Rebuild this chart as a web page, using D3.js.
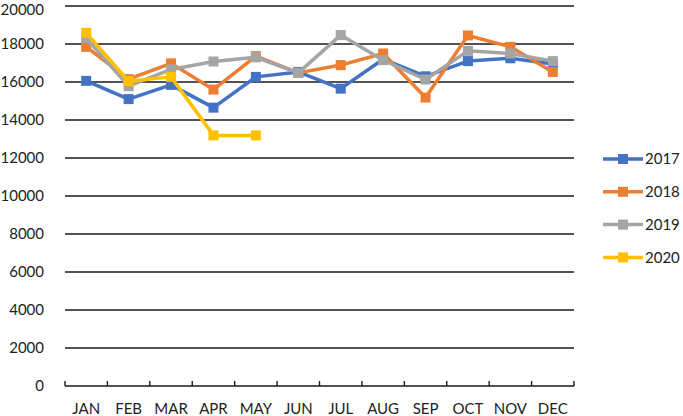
<!DOCTYPE html>
<html>
<head>
<meta charset="utf-8">
<script src="https://cdn.jsdelivr.net/npm/d3@7"></script>
<style>
  body { margin: 0; background: #fff; }
  text { font-family: Lato, "Liberation Sans", sans-serif; font-size: 15px; fill: #222; }
</style>
</head>
<body>
<script>
const months = ['JAN', 'FEB', 'MAR', 'APR', 'MAY', 'JUN', 'JUL', 'AUG', 'SEP', 'OCT', 'NOV', 'DEC']
const years = ['2017', '2018', '2019', '2020']
const colors = ['#4472C4', '#ED7D31', '#A5A5A5', '#FFC000']
const yTicks = [0, 2000, 4000, 6000, 8000, 10000, 12000, 14000, 16000, 18000, 20000]

const v2017 = [16060, 15100, 15850, 14650, 16270, 16530, 15650, 17200, 16300, 17100, 17250, 16950]
const v2018 = [17850, 16150, 16980, 15600, 17360, 16480, 16890, 17500, 15180, 18450, 17850, 16530]
const v2019 = [18300, 15780, 16660, 17080, 17300, 16480, 18470, 17150, 16130, 17640, 17500, 17100]
const v2020 = [18590, 16040, 16270, 13190, 13190]
const series = [v2017, v2018, v2019, v2020]

const width = 683
const height = 416
const margin = { top: 6, right: 109, bottom: 30, left: 65 }
const innerW = width - margin.left - margin.right
const innerH = height - margin.top - margin.bottom

const svg = d3.select('body').append('svg')
  .attr('width', width)
  .attr('height', height)

const g = svg.append('g')
  .attr('transform', `translate(${margin.left}, ${margin.top})`)

const xScale = d3.scaleBand()
  .domain(months)
  .range([0, innerW])

const yScale = d3.scaleLinear()
  .domain([0, 20000])
  .range([innerH, 0])

// gridlines
g.selectAll('.grid')
  .data(yTicks.filter(d => d > 0))
  .join('line')
  .attr('class', 'grid')
  .attr('x1', 0)
  .attr('x2', innerW)
  .attr('y1', d => yScale(d))
  .attr('y2', d => yScale(d))
  .attr('stroke', '#1a1a1a')
  .attr('stroke-width', 1.6)

// y labels (top one nudged so it isn't clipped)
g.selectAll('.ylab')
  .data(yTicks)
  .join('text')
  .attr('class', 'ylab')
  .attr('x', -21)
  .attr('y', d => Math.max(yScale(d), 4))
  .attr('dy', '0.35em')
  .attr('text-anchor', 'end')
  .text(d => d)

// x axis, ticks on band boundaries pointing up
const xAxis = g.append('g').attr('transform', `translate(0, ${innerH})`)
xAxis.append('line')
  .attr('x1', 0).attr('x2', innerW)
  .attr('stroke', '#1a1a1a')
  .attr('stroke-width', 1.6)
const bounds = months.map(m => xScale(m)).concat([innerW])
xAxis.selectAll('.tick')
  .data(bounds)
  .join('line')
  .attr('class', 'tick')
  .attr('x1', d => d).attr('x2', d => d)
  .attr('y1', 0).attr('y2', -5)
  .attr('stroke', '#1a1a1a')
  .attr('stroke-width', 1.4)
xAxis.selectAll('.xlab')
  .data(months)
  .join('text')
  .attr('class', 'xlab')
  .attr('x', d => xScale(d) + xScale.bandwidth() / 2)
  .attr('y', 28)
  .attr('text-anchor', 'middle')
  .text(d => d)

const line = d3.line()
  .x((d, i) => xScale(months[i]) + xScale.bandwidth() / 2)
  .y(d => yScale(d))

const ms = 10
series.forEach((vals, si) => {
  const sg = g.append('g')
  sg.append('path')
    .datum(vals)
    .attr('fill', 'none')
    .attr('stroke', colors[si])
    .attr('stroke-width', 3.5)
    .attr('stroke-linejoin', 'round')
    .attr('d', line)
  sg.selectAll('rect')
    .data(vals)
    .join('rect')
    .attr('x', (d, i) => xScale(months[i]) + xScale.bandwidth() / 2 - ms / 2)
    .attr('y', d => yScale(d) - ms / 2)
    .attr('width', ms)
    .attr('height', ms)
    .attr('fill', colors[si])
})

// legend
const legend = svg.append('g').attr('transform', 'translate(603, 159)')
const item = legend.selectAll('g')
  .data(years)
  .join('g')
  .attr('transform', (d, i) => `translate(0, ${i * 32.8})`)
item.append('line')
  .attr('x1', 0).attr('x2', 40)
  .attr('stroke', (d, i) => colors[i])
  .attr('stroke-width', 3.5)
item.append('rect')
  .attr('x', 20 - ms / 2).attr('y', -ms / 2)
  .attr('width', ms).attr('height', ms)
  .attr('fill', (d, i) => colors[i])
item.append('text')
  .attr('x', 42)
  .attr('dy', '0.35em')
  .text(d => d)
</script>
</body>
</html>
